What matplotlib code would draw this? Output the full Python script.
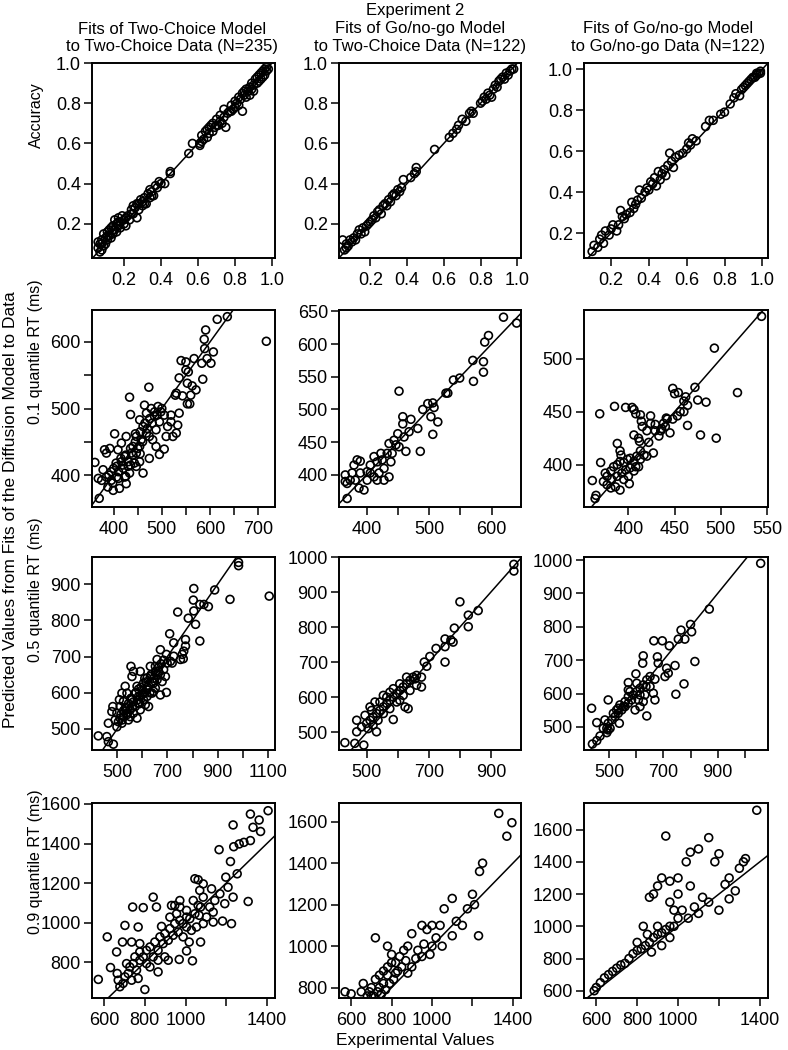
import numpy as np
import matplotlib
matplotlib.use("Agg")
import matplotlib.pyplot as plt

plt.rcParams['font.family'] = ['Liberation Sans', 'DejaVu Sans']

# ---- data: (experimental, predicted) pairs ----
# row 1: accuracy
acc_2c2c = [[0.06,0.08],[0.06,0.11],[0.07,0.06],[0.07,0.10],[0.08,0.07],[0.08,0.12],[0.09,0.09],[0.09,0.15],
            [0.10,0.10],[0.10,0.13],[0.11,0.16],[0.11,0.12],[0.12,0.14],[0.12,0.17],[0.13,0.13],[0.13,0.18],
            [0.14,0.15],[0.14,0.19],[0.15,0.17],[0.15,0.22],[0.16,0.16],[0.16,0.20],[0.17,0.19],[0.17,0.23],
            [0.18,0.18],[0.18,0.21],[0.19,0.24],[0.20,0.20],[0.20,0.22],[0.21,0.19],[0.22,0.24],[0.23,0.22],
            [0.24,0.27],[0.25,0.25],[0.25,0.29],[0.26,0.28],[0.27,0.23],[0.27,0.30],[0.28,0.27],[0.29,0.32],
            [0.30,0.29],[0.30,0.31],[0.31,0.33],[0.32,0.30],[0.33,0.35],[0.34,0.33],[0.34,0.37],[0.35,0.36],
            [0.36,0.34],[0.37,0.39],[0.38,0.38],[0.39,0.41],[0.40,0.40],[0.42,0.40],[0.45,0.45],[0.45,0.46],
            [0.55,0.55],[0.57,0.60],[0.61,0.60],[0.61,0.59],[0.62,0.61],[0.62,0.64],[0.63,0.62],[0.64,0.66],
            [0.65,0.63],[0.65,0.67],[0.66,0.65],[0.67,0.69],[0.68,0.66],[0.68,0.70],[0.69,0.68],[0.70,0.72],
            [0.71,0.69],[0.72,0.71],[0.72,0.74],[0.73,0.70],[0.74,0.73],[0.74,0.77],[0.75,0.68],[0.76,0.75],
            [0.77,0.76],[0.78,0.79],[0.79,0.77],[0.80,0.81],[0.80,0.78],[0.81,0.80],[0.82,0.83],[0.82,0.79],
            [0.83,0.82],[0.84,0.85],[0.84,0.76],[0.85,0.84],[0.86,0.87],[0.86,0.83],[0.87,0.86],[0.88,0.88],
            [0.88,0.84],[0.89,0.90],[0.90,0.89],[0.90,0.86],[0.91,0.92],[0.92,0.90],[0.92,0.93],[0.93,0.94],
            [0.94,0.92],[0.94,0.95],[0.95,0.96],[0.96,0.94],[0.96,0.97],[0.97,0.96],[0.97,0.98],[0.98,0.97],
            [0.08,0.10],[0.11,0.14],[0.14,0.17],[0.17,0.21],[0.21,0.23],[0.24,0.25],[0.28,0.30],[0.31,0.30],
            [0.35,0.34],[0.66,0.68],[0.70,0.69],[0.78,0.76],[0.85,0.86],[0.89,0.87],[0.93,0.91],[0.95,0.93]]
acc_gng2c = [[0.05,0.12],[0.06,0.07],[0.07,0.08],[0.07,0.10],[0.08,0.09],[0.09,0.12],[0.10,0.11],[0.11,0.13],
             [0.12,0.12],[0.13,0.15],[0.14,0.17],[0.15,0.15],[0.16,0.18],[0.17,0.16],[0.18,0.19],[0.19,0.20],
             [0.20,0.21],[0.21,0.22],[0.22,0.24],[0.23,0.23],[0.24,0.26],[0.25,0.27],[0.26,0.25],[0.27,0.29],
             [0.28,0.30],[0.29,0.29],[0.30,0.32],[0.31,0.31],[0.32,0.34],[0.33,0.35],[0.34,0.34],[0.35,0.37],
             [0.36,0.36],[0.37,0.38],[0.38,0.42],[0.42,0.43],[0.44,0.45],[0.45,0.48],[0.45,0.46],[0.55,0.57],
             [0.63,0.63],[0.65,0.65],[0.67,0.67],[0.68,0.69],[0.70,0.72],[0.72,0.71],[0.74,0.75],[0.75,0.76],
             [0.76,0.75],[0.80,0.80],[0.81,0.81],[0.82,0.83],[0.83,0.82],[0.84,0.85],[0.85,0.84],[0.86,0.83],
             [0.87,0.87],[0.88,0.89],[0.89,0.88],[0.90,0.91],[0.91,0.92],[0.92,0.93],[0.93,0.92],[0.94,0.95],
             [0.95,0.94],[0.96,0.96],[0.97,0.97],[0.98,0.97]]
acc_gnggng = [[0.10,0.11],[0.11,0.14],[0.13,0.13],[0.14,0.17],[0.15,0.19],[0.16,0.15],[0.17,0.21],[0.19,0.19],
              [0.20,0.22],[0.21,0.24],[0.23,0.21],[0.24,0.24],[0.25,0.31],[0.26,0.28],[0.27,0.27],[0.28,0.29],
              [0.30,0.30],[0.31,0.35],[0.32,0.32],[0.33,0.34],[0.34,0.36],[0.35,0.41],[0.36,0.37],[0.38,0.40],
              [0.39,0.42],[0.40,0.41],[0.41,0.45],[0.42,0.44],[0.43,0.47],[0.44,0.43],[0.45,0.50],[0.46,0.46],
              [0.47,0.49],[0.48,0.51],[0.49,0.48],[0.50,0.53],[0.51,0.59],[0.52,0.55],[0.53,0.52],[0.54,0.57],
              [0.56,0.58],[0.58,0.59],[0.60,0.61],[0.61,0.64],[0.62,0.63],[0.63,0.66],[0.65,0.65],[0.70,0.72],
              [0.72,0.75],[0.74,0.75],[0.78,0.78],[0.80,0.79],[0.83,0.83],[0.85,0.86],[0.86,0.88],[0.88,0.87],
              [0.89,0.90],[0.90,0.91],[0.91,0.92],[0.92,0.93],[0.93,0.94],[0.94,0.95],[0.95,0.96],[0.96,0.96],
              [0.97,0.97],[0.97,0.98],[0.98,0.98],[0.99,0.98],[0.99,0.99]]

# row 2: 0.1 quantile RT
q1_2c2c = [[717,601],[636,638],[615,634],[591,618],[588,604],[589,590],[607,585],[594,575],[602,568],[583,568],
           [585,544],[567,575],[550,570],[540,572],[550,558],[555,555],[536,546],[553,538],[563,534],[571,528],
           [560,520],[543,519],[530,523],[528,520],[473,532],[553,507],[558,507],[433,517],[435,491],[402,462],
           [361,419],[370,365],[461,403],[495,431],[474,425],[505,439],[523,458],[530,463],[533,475],[536,493],
           [519,490],[512,473],[426,387],[412,380],[399,377],[388,382],[375,392],[368,395],[378,408],[385,433],
           [381,438],[392,440],[409,438],[416,448],[426,458],[419,415],[433,403],[443,418],[447,433],[454,443],
           [447,458],[461,473],[454,483],[468,493],[464,505],[478,500],[485,488],[492,503],[498,495],[488,468],
           [481,453],[474,458],[468,463],[457,453],[440,443],[437,433],[423,428],[416,420],[406,413],[395,405],
           [385,397],[406,397],[423,397],[430,413],[447,413],[454,420],[488,443],[509,458],[519,480],
           [390,400],[395,392],[400,410],[405,418],[410,405],[415,425],[420,410],[425,430],[430,420],[435,440],
           [440,430],[445,450],[450,440],[455,465],[460,450],[465,478],[470,470],[475,485],[480,478],[485,495],
           [490,490],[495,480],[500,500],[505,490],[445,462],[455,432],[435,415],[425,398],[410,395],[398,388]]
q1_gng2c = [[619,641],[640,632],[595,613],[589,603],[570,575],[587,573],[587,557],[571,543],[549,548],[539,545],
            [527,525],[530,525],[452,528],[506,510],[498,509],[508,503],[490,500],[503,489],[514,481],[506,462],
            [486,436],[463,436],[482,471],[471,485],[458,489],[458,478],[468,466],[460,458],[450,463],[444,453],
            [447,446],[452,443],[436,448],[433,433],[423,433],[425,423],[417,420],[412,428],[406,415],[401,405],
            [390,403],[385,423],[390,421],[380,415],[377,403],[382,392],[374,392],[369,387],[366,400],[388,380],
            [396,377],[366,390],[369,364],[401,392],[412,397],[420,403],[428,410],[436,397],[428,392],[439,420],
            [441,433],[406,403],[417,392]]
q1_gnggng = [[544,540],[493,510],[518,468],[472,473],[448,472],[450,467],[454,468],[462,464],[475,461],[484,459],
             [464,456],[456,450],[453,446],[464,437],[478,428],[495,425],[445,430],[442,443],[440,436],[436,434],
             [429,438],[424,439],[429,432],[424,446],[413,447],[414,441],[415,436],[420,432],[411,425],[406,428],
             [412,422],[422,421],[369,448],[385,455],[397,454],[404,454],[406,452],[408,448],[388,420],[391,413],
             [392,409],[370,402],[361,385],[365,371],[364,368],[401,382],[377,389],[381,394],[384,398],[388,400],
             [391,403],[395,402],[399,405],[402,406],[406,403],[409,408],[413,405],[417,409],[413,413],[408,398],
             [402,397],[397,395],[393,392],[388,389],[382,386],[377,381],[381,378],[386,379],[391,376],[375,392],
             [373,384],[395,386],[400,389],[406,394],[411,398],[420,408],[427,411],[433,427],[435,432],[438,439],
             [441,444],[448,443],[460,450],[460,460]]

# row 3: 0.5 quantile RT
q5_2c2c = [[1105,867],[983,960],[983,951],[949,858],[888,884],[805,888],[803,856],[805,826],[829,844],[845,844],
           [863,838],[741,823],[783,806],[812,789],[829,743],[772,747],[772,729],[765,715],[759,706],[752,692],
           [763,694],[709,763],[725,738],[672,719],[696,706],[712,687],[725,701],[719,682],[652,655],[696,601],
           [672,594],[645,604],[619,608],[612,567],[592,553],[579,530],[555,673],[565,659],[532,618],[509,581],
           [483,562],[479,548],[465,516],[425,481],[459,479],[485,458],[465,465],[499,506],[519,516],[525,534],
           [539,544],[552,553],[545,525],[565,544],[572,562],[585,571],[592,590],[605,581],[619,590],[625,562],
           [599,608],[605,627],[619,641],[632,645],[645,627],[659,636],[665,659],[672,650],[685,664],[652,673],
           [632,673],[592,659],[559,645],[539,599],[525,576],[512,562],[499,544],[492,525],[512,530],[572,599],
           [579,618],[585,590],[559,581],[639,599],[652,613],[679,631],[692,645],[699,682],[659,692],[532,557],
           [519,599],[552,534],
           [505,520],[515,540],[525,550],[535,560],[545,570],[555,585],[565,575],[575,600],[585,610],[595,615],
           [605,600],[615,630],[625,620],[635,650],[645,640],[655,660],[665,670],[675,680],[685,690],[560,560],
           [580,580],[600,595],[620,615],[640,630],[660,650],[540,540],[520,525],[590,570],[610,640],[630,600]]
q5_gng2c = [[974,979],[974,960],[859,847],[827,834],[827,801],[800,872],[782,797],[752,766],[771,763],[778,757],
            [752,744],[752,700],[723,739],[703,716],[685,700],[693,688],[676,657],[676,629],[655,652],[633,567],
            [585,536],[467,534],[429,470],[461,468],[490,463],[515,562],[531,501],[467,501],[483,515],[499,525],
            [510,534],[520,543],[531,553],[542,562],[553,572],[564,582],[574,591],[585,600],[596,610],[606,619],
            [617,629],[628,638],[639,648],[649,657],[660,634],[639,619],[617,605],[596,586],[574,567],[553,553],
            [536,534],[520,520],[504,510],[542,586],[564,600],[585,624],[606,638],[628,657],[660,662],[574,614],
            [553,605],[606,591],[623,572],[526,586],[510,572],[494,548]]
q5_gnggng = [[1058,990],[869,853],[800,807],[804,785],[765,790],[779,763],[755,763],[722,743],[696,758],[665,758],
             [816,696],[743,684],[746,598],[776,629],[706,651],[718,661],[712,676],[681,691],[678,710],[626,713],
             [624,691],[669,643],[663,601],[669,581],[639,533],[599,659],[571,633],[596,551],[436,556],[455,513],
             [538,511],[497,581],[439,449],[455,459],[467,473],[492,483],[504,496],[510,521],[522,531],[534,541],
             [547,551],[559,561],[571,571],[583,581],[589,596],[602,606],[614,616],[626,626],[639,641],[651,651],
             [577,606],[571,591],[559,576],[540,566],[528,551],[516,541],[497,511],[492,496],[497,491],[608,581],
             [614,596],[632,596],[651,621],[636,621],[602,631],[571,611],[553,561],[534,556],[626,576],[614,561],
             [479,496],[485,521]]

# row 4: 0.9 quantile RT
q9_2c2c = [[1406,1566],[1319,1549],[1362,1519],[1332,1482],[1369,1461],[1234,1494],[1319,1415],[1287,1406],
           [1264,1398],[1237,1384],[1165,1369],[1221,1309],[1254,1247],[1198,1230],[1209,1179],[1234,1129],
           [1308,1107],[1193,1096],[1226,995],[1182,1008],[1136,1003],[1087,1196],[1062,1217],[1046,1222],
           [1070,1163],[1087,1129],[1128,1171],[1169,1146],[1144,1112],[1119,1079],[1136,1053],[1103,1028],
           [1087,995],[1038,1112],[1074,1079],[1067,1037],[1005,1062],[1005,1028],[988,995],[972,1079],
           [931,1087],[947,1087],[972,1112],[1074,902],[1018,902],[1005,857],[1034,807],[969,814],[915,810],
           [857,1079],[841,1129],[792,1076],[740,1079],[767,978],[702,986],[690,902],[735,902],[661,852],
           [615,928],[631,773],[571,713],[664,743],[800,662],[865,751],[825,776],[882,981],[669,709],[677,676],
           [693,693],[702,726],[718,743],[726,776],[743,793],[751,827],[759,760],[775,810],[775,852],[792,827],
           [808,860],[808,793],[825,877],[841,827],[849,902],[865,860],[874,928],[890,894],[898,945],[915,911],
           [923,970],[939,936],[947,995],[964,953],[972,1012],[988,928],[1005,978],[1021,1020],[1029,961],
           [1046,1045],[1054,978],[1062,1087],[898,827],[865,810],[767,718],[735,709],[710,793],[775,894],
           [923,1028],[956,1045]]
q9_gng2c = [[1330,1640],[1395,1595],[1370,1530],[1250,1400],[1235,1360],[1200,1250],[1210,1200],[1175,1180],
            [1230,1050],[1100,1230],[1060,1180],[1040,1100],[1000,1100],[975,1080],[950,1100],[900,1060],
            [880,1000],[860,980],[840,950],[820,920],[800,920],[780,900],[760,880],[740,860],[720,840],
            [700,800],[690,780],[680,760],[660,820],[720,1040],[780,1000],[800,960],[850,900],[900,900],
            [950,950],[1000,1000],[1050,1000],[880,870],[820,870],[780,860],[760,820],[740,800],[700,760],
            [600,770],[570,780],[1120,1120],[1150,1100],[1100,1050],[960,1010],[920,940],[870,930],[830,880],
            [810,840],[790,820],[770,790],[750,770],[730,780],[710,760],[650,780],[930,980],[990,960],[1020,1040]]
q9_gnggng = [[1385,1720],[1330,1420],[1320,1400],[1300,1360],[1250,1300],[1230,1260],[1200,1450],[1180,1400],
             [1150,1550],[1100,1480],[1060,1460],[1040,1400],[1000,1300],[960,1280],[940,1560],[920,1300],
             [900,1250],[880,1200],[860,1180],[1200,1100],[1150,1150],[1100,1080],[1050,1050],[1000,1050],
             [980,1100],[960,1000],[940,980],[920,960],[900,950],[880,930],[860,900],[840,880],[820,860],
             [800,850],[780,830],[760,800],[740,770],[720,760],[700,740],[680,720],[660,700],[640,680],
             [620,650],[600,620],[590,600],[980,1000],[1020,1100],[1080,1120],[1120,1180],[1250,1170],
             [1280,1220],[900,1000],[850,950],[830,1000],[800,900],[960,1150],[1000,1200],[1060,1250],
             [870,840],[920,880],[960,930]]

panels = [[acc_2c2c, acc_gng2c, acc_gnggng],
          [q1_2c2c, q1_gng2c, q1_gnggng],
          [q5_2c2c, q5_gng2c, q5_gnggng],
          [q9_2c2c, q9_gng2c, q9_gnggng]]

acc_ticks = [0.2, 0.4, 0.6, 0.8, 1.0]
acc_labels = ['0.2', '0.4', '0.6', '0.8', '1.0']

# per panel: xlim, ylim, xticks, xticklabels, yticks, yticklabels
specs = [
    [((0.027, 1.016), (0.03, 1.0), acc_ticks, acc_labels, acc_ticks, acc_labels),
     ((0.03, 1.02), (0.03, 1.0), acc_ticks, acc_labels, acc_ticks, acc_labels),
     ((0.057, 1.03), (0.078, 1.03), acc_ticks, acc_labels, acc_ticks, acc_labels)],
    [((355, 735), (352, 648), [400, 450, 500, 550, 600, 650, 700], ['400', '', '500', '', '600', '', '700'],
      [400, 450, 500, 550, 600], ['400', '', '500', '', '600']),
     ((356, 647), (351, 652), [400, 450, 500, 550, 600], ['400', '', '500', '', '600'],
      [400, 450, 500, 550, 600, 650], ['400', '450', '500', '550', '600', '650']),
     ((352, 551), (360, 546), [400, 450, 500, 550], ['400', '450', '500', '550'],
      [400, 450, 500], ['400', '450', '500'])],
    [((400, 1128), (442, 975), [500, 600, 700, 800, 900, 1000, 1100], ['500', '', '700', '', '900', '', '1100'],
      [500, 600, 700, 800, 900], ['500', '600', '700', '800', '900']),
     ((410, 997), (449, 1000), [500, 600, 700, 800, 900], ['500', '', '700', '', '900'],
      [500, 600, 700, 800, 900, 1000], ['500', '600', '700', '800', '900', '1000']),
     ((408, 1085), (431, 1009), [500, 600, 700, 800, 900, 1000], ['500', '', '700', '', '900', ''],
      [500, 600, 700, 800, 900, 1000], ['500', '600', '700', '800', '900', '1000'])],
    [((540, 1440), (619, 1605), [600, 800, 1000, 1200, 1400], ['600', '800', '1000', '', '1400'],
      [800, 1000, 1200, 1400, 1600], ['800', '1000', '1200', '1400', '1600']),
     ((540, 1440), (750, 1690), [600, 800, 1000, 1200, 1400], ['600', '800', '1000', '', '1400'],
      [800, 1000, 1200, 1400, 1600], ['800', '1000', '1200', '1400', '1600']),
     ((540, 1440), (555, 1765), [600, 800, 1000, 1200, 1400], ['600', '800', '1000', '', '1400'],
      [600, 800, 1000, 1200, 1400, 1600], ['600', '800', '1000', '1200', '1400', '1600'])],
]

W, H = 788, 1050
col_left = [92, 339, 584]
col_w = [183, 182, 184]
row_top = [63, 310, 557, 803]
row_h = [195, 197, 193, 195]

fig = plt.figure(figsize=(W / 100, H / 100), dpi=100)

for r in range(4):
    for c in range(3):
        ax = fig.add_axes([col_left[c] / W, 1 - (row_top[r] + row_h[r]) / H, col_w[c] / W, row_h[r] / H])
        pts = np.array(panels[r][c])
        xl, yl, xt, xtl, yt, ytl = specs[r][c]
        ax.scatter(pts[:, 0], pts[:, 1], s=32, facecolors='none', edgecolors='black', linewidths=1.2, zorder=3)
        ax.axline((0, 0), slope=1, color='black', lw=1.1, zorder=2)
        ax.set_xlim(*xl)
        ax.set_ylim(*yl)
        ax.set_xticks(xt)
        ax.set_xticklabels(xtl)
        ax.set_yticks(yt)
        ax.set_yticklabels(ytl)
        ax.tick_params(direction='out', length=6, width=1.1, labelsize=13, pad=2, colors='black')
        ax.tick_params(axis='x', pad=4)
        for sp in ax.spines.values():
            sp.set_linewidth(1.4)

# titles
fig.text(415 / W, 1 - 10 / H, 'Experiment 2', ha='center', va='center', fontsize=12)
titles = [('Fits of Two-Choice Model', 'to Two-Choice Data (N=235)'),
          ('Fits of Go/no-go Model', 'to Two-Choice Data (N=122)'),
          ('Fits of Go/no-go Model', 'to Go/no-go Data (N=122)')]
title_x = [172, 420, 668]
for i, (l1, l2) in enumerate(titles):
    fig.text(title_x[i] / W, 1 - 29 / H, l1, ha='center', va='center', fontsize=12)
    fig.text(title_x[i] / W, 1 - 47 / H, l2, ha='center', va='center', fontsize=12)

ylabels = ['Accuracy', '0.1 quantile RT (ms)', '0.5 quantile RT (ms)', '0.9 quantile RT (ms)']
ylabel_y = [115, 352, 590, 862]
for lab, yy in zip(ylabels, ylabel_y):
    fig.text(36 / W, 1 - yy / H, lab, rotation=90, ha='center', va='center', fontsize=11.5)

fig.text(11 / W, 1 - 510 / H, 'Predicted Values from Fits of the Diffusion Model to Data',
         rotation=90, ha='center', va='center', fontsize=12.5)
fig.text(415 / W, 1 - 1040 / H, 'Experimental Values', ha='center', va='center', fontsize=12.5)

fig.savefig('out.png', dpi=100)
